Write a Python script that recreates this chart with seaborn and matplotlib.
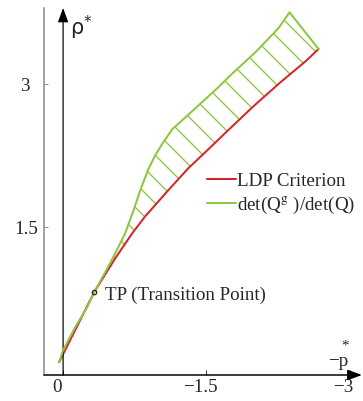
import numpy as np
import pandas as pd
import matplotlib
matplotlib.use("Agg")
import matplotlib.pyplot as plt
import seaborn as sns
from matplotlib import transforms

# ---- data ----
red_x = [0.042, -0.325, -0.546, -0.724, -0.860, -1.101, -1.311, -1.521, -1.783,
         -1.993, -2.276, -2.539, -2.675]
red_y = [0.084, 0.818, 1.175, 1.437, 1.615, 1.888, 2.119, 2.318, 2.570,
         2.769, 3.021, 3.241, 3.370]
green_x = [0.042, 0.0, -0.126, -0.252, -0.325, -0.441, -0.546, -0.650, -0.734, -0.808,
           -0.892, -0.965, -1.049, -1.143, -1.259, -1.385, -1.511, -1.615, -1.752,
           -2.014, -2.255, -2.371, -2.675]
green_y = [0.084, 0.21, 0.451, 0.661, 0.818, 1.028, 1.227, 1.437, 1.668, 1.888,
           2.108, 2.255, 2.392, 2.528, 2.633, 2.748, 2.864, 2.958, 3.094,
           3.336, 3.588, 3.755, 3.370]
tp_x, tp_y = -0.325, 0.818
x_ticks = [0, -1.5, -3]
x_ticklabels = ["0", "\u22121.5", "\u22123"]
y_ticks = [1.5, 3]
y_ticklabels = ["1.5", "3"]
series_names = ["LDP Criterion", "det(Q$^{\\mathrm{g}}$ )/det(Q)"]

RED = "#d8232a"
GREEN = "#8dc63f"

sns.set_style("white")
plt.rcParams["font.family"] = ["Liberation Serif", "DejaVu Serif"]
plt.rcParams["mathtext.fontset"] = "stix"
plt.rcParams["hatch.color"] = GREEN
plt.rcParams["hatch.linewidth"] = 1.3

W, H, DPI = 363, 401, 72
fig = plt.figure(figsize=(W / DPI, H / DPI), dpi=DPI)
L, R, T, B = 44, 362, 8, 375
ax = fig.add_axes([L / W, 1 - B / H, (R - L) / W, (B - T) / H])

df_red = pd.DataFrame({"x": red_x, "y": red_y})
df_green = pd.DataFrame({"x": green_x, "y": green_y})

# hatched region between curves
poly_x = np.concatenate([np.array(green_x), np.array(red_x)[::-1]])
poly_y = np.concatenate([np.array(green_y), np.array(red_y)[::-1]])
ax.fill(poly_x, poly_y, facecolor="none", edgecolor=GREEN, hatch="\\", linewidth=0, zorder=1)

sns.lineplot(data=df_red, x="x", y="y", sort=False, color=RED, lw=2.0,
             label=series_names[0], ax=ax, zorder=3)
sns.lineplot(data=df_green, x="x", y="y", sort=False, color=GREEN, lw=2.0,
             label=series_names[1], ax=ax, zorder=4)

ax.plot([tp_x], [tp_y], marker="o", ms=4.5, mfc="none", mec="#222222", mew=1.2, zorder=5)
ax.text(tp_x - 0.11, tp_y - 0.03, "TP (Transition Point)", fontsize=19, va="center", ha="left")

ax.set_xlim(0.20, -3.13)
ax.set_ylim(-0.05, 3.80)
ax.set_xlabel("")
ax.set_ylabel("")

for s in ["top", "right", "bottom"]:
    ax.spines[s].set_visible(False)
ax.spines["left"].set_color("#888888")
ax.spines["left"].set_linewidth(1.5)

ax.set_xticks(x_ticks)
ax.set_xticklabels(x_ticklabels, fontsize=19)
ax.set_yticks(y_ticks)
ax.set_yticklabels(y_ticklabels, fontsize=19)
ax.tick_params(axis="x", direction="in", length=5, width=1, color="#333333", pad=4, bottom=True)
ax.tick_params(axis="y", direction="in", length=4, width=1, color="#888888", pad=18, left=True)
for lab in ax.get_yticklabels():
    lab.set_horizontalalignment("center")
shift = transforms.ScaledTranslation(-6 / DPI, 0, fig.dpi_scale_trans)
for lab in ax.get_xticklabels():
    lab.set_transform(lab.get_transform() + shift)

# axis arrows
ax.annotate("", xy=(1.0, 0.0), xytext=(0.0, 0.0), xycoords="axes fraction",
            arrowprops=dict(arrowstyle="-|>,head_length=0.6,head_width=0.22", color="black",
                            lw=1.5, mutation_scale=20, shrinkA=0, shrinkB=0),
            annotation_clip=False)
vtrans = ax.get_xaxis_transform()
ax.annotate("", xy=(0, 1.0), xytext=(0, 0.0), xycoords=vtrans, textcoords=vtrans,
            arrowprops=dict(arrowstyle="-|>,head_length=0.6,head_width=0.22", color="black",
                            lw=1.2, mutation_scale=20, shrinkA=0, shrinkB=0),
            annotation_clip=False)

fig.text(70 / W, 1 - 28 / H, "\u03c1", fontsize=21, family="DejaVu Sans", va="center", ha="left")
fig.text(84 / W, 1 - 23 / H, "*", fontsize=15, family="DejaVu Sans", va="center", ha="left")
fig.text(328 / W, 1 - 362 / H, "\u2212p", fontsize=19, va="center", ha="left")
fig.text(341 / W, 1 - 346 / H, "*", fontsize=15, va="center", ha="left")

leg = ax.legend(loc="center left", bbox_to_anchor=(0.513, 0.493), frameon=False,
                fontsize=19, handlelength=1.5, handletextpad=0.05, borderpad=0,
                labelspacing=0.25, borderaxespad=0)

fig.savefig("out.png", dpi=DPI)
